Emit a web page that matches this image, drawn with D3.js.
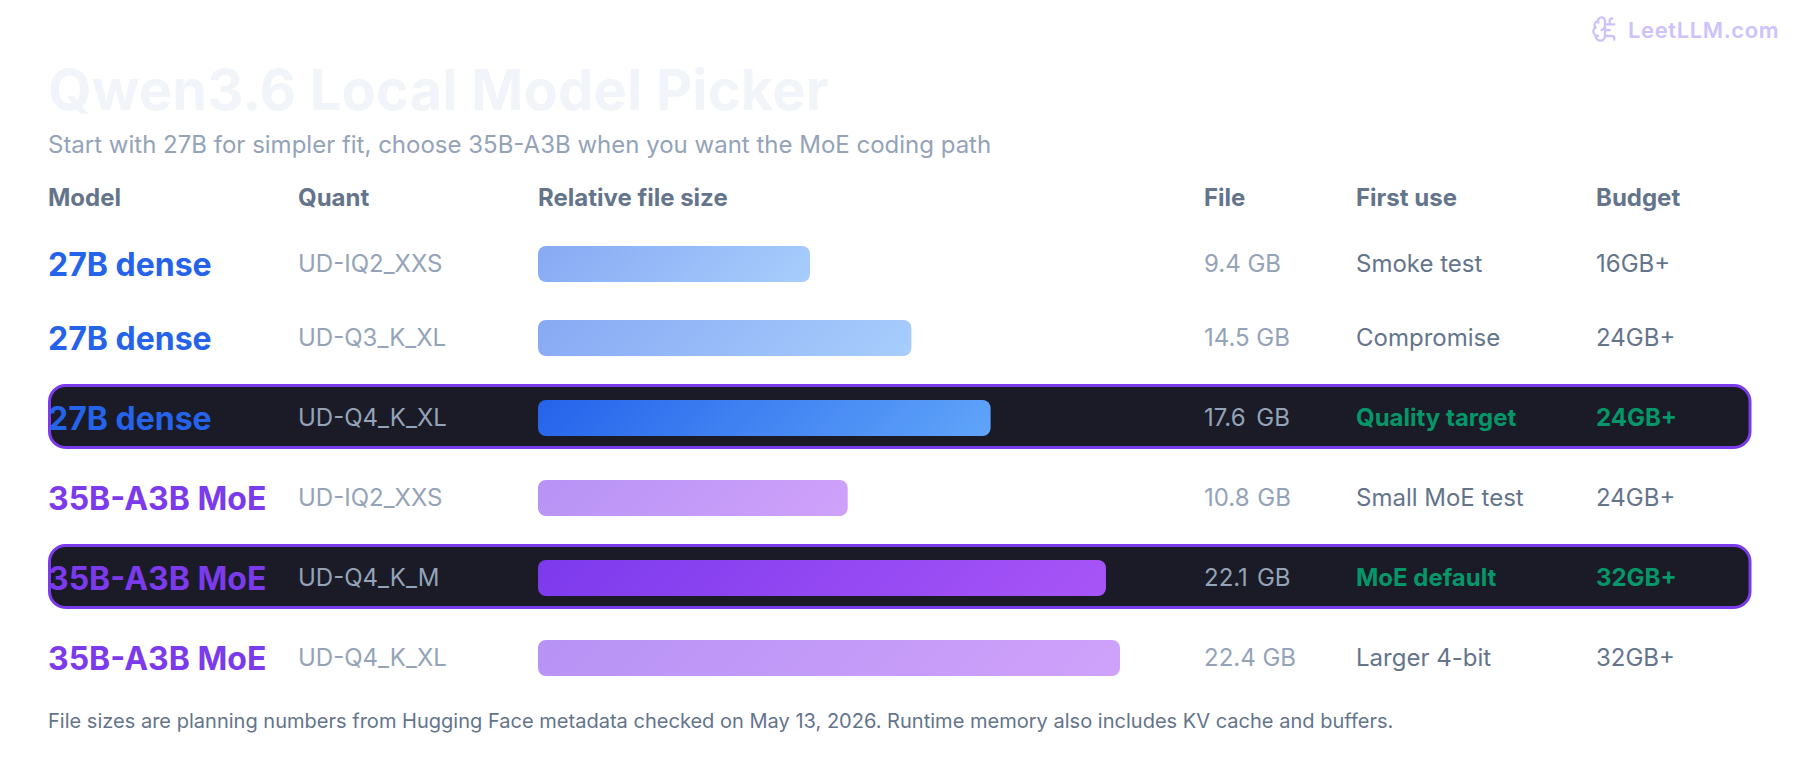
<!DOCTYPE html>
<html>
<head>
<meta charset="utf-8">
<script src="https://cdn.jsdelivr.net/npm/d3@7"></script>
<style>
html, body { margin: 0; padding: 0; background: #fff; }
svg { display: block; }
text { font-family: Inter, sans-serif; }
</style>
</head>
<body>
<div id="drawArea"></div>
<script>
// Chart values
var columns = ["Model", "Quant", "Relative file size", "File", "First use", "Budget"];
var models = ["27B dense", "27B dense", "27B dense", "35B-A3B MoE", "35B-A3B MoE", "35B-A3B MoE"];
var quants = ["UD-IQ2_XXS", "UD-Q3_K_XL", "UD-Q4_K_XL", "UD-IQ2_XXS", "UD-Q4_K_M", "UD-Q4_K_XL"];
var barLengths = [10.47, 14.37, 17.42, 11.92, 21.86, 22.4];
var fileLabels = ["9.4 GB", "14.5 GB", "17.6 GB", "10.8 GB", "22.1 GB", "22.4 GB"];
var firstUses = ["Smoke test", "Compromise", "Quality target", "Small MoE test", "MoE default", "Larger 4-bit"];
var budgets = ["16GB+", "24GB+", "24GB+", "24GB+", "32GB+", "32GB+"];
var picked = [false, false, true, false, true, false];
var families = ["blue", "blue", "blue", "purple", "purple", "purple"];

var WIDTH = 1800;
var HEIGHT = 784;
var COL_X = [48, 298, 538, 1204, 1356, 1596];
var ROW_TOPS = [246, 320, 400, 480, 560, 640];
var BAR_HEIGHT = 36;
var BAR_MAX = 582;

var svg = d3.select("#drawArea")
    .append("svg")
    .attr("width", WIDTH)
    .attr("height", HEIGHT);

var xBar = d3.scaleLinear().domain([0, d3.max(barLengths)]).range([0, BAR_MAX]);
var yRow = d3.scaleOrdinal().domain(d3.range(models.length)).range(ROW_TOPS);
var familyColor = d3.scaleOrdinal().domain(["blue", "purple"]).range(["#2563eb", "#7c3aed"]);
var familyEnd = d3.scaleOrdinal().domain(["blue", "purple"]).range(["#60a5fa", "#a855f7"]);

// Bar gradients, one per bar so the angle stays at a true 45 degrees
var defs = svg.append("defs");
barLengths.forEach(function (v, i) {
    var w = xBar(v);
    var shift = (w + BAR_HEIGHT) / 4;
    var grad = defs.append("linearGradient")
        .attr("id", "grad-" + i)
        .attr("gradientUnits", "userSpaceOnUse")
        .attr("x1", COL_X[2] + w / 2 - shift).attr("y1", BAR_HEIGHT / 2 - shift)
        .attr("x2", COL_X[2] + w / 2 + shift).attr("y2", BAR_HEIGHT / 2 + shift);
    grad.append("stop").attr("offset", "0%").attr("stop-color", familyColor(families[i]));
    grad.append("stop").attr("offset", "100%").attr("stop-color", familyEnd(families[i]));
});

// Watermark
var logo = svg.append("g")
    .attr("transform", "translate(1591,15) scale(1.167)")
    .attr("fill", "none")
    .attr("stroke", "#cdc2fc")
    .attr("stroke-width", 2)
    .attr("stroke-linecap", "round")
    .attr("stroke-linejoin", "round");
logo.selectAll("path")
    .data([
        "M12 5a3 3 0 1 0-5.997.125 4 4 0 0 0-2.526 5.77 4 4 0 0 0 .556 6.588A4 4 0 1 0 12 18Z",
        "M9 13a4.5 4.5 0 0 0 3-4",
        "M6.003 5.125A3 3 0 0 0 6.401 6.5",
        "M3.477 10.896a4 4 0 0 1 .585-.396",
        "M6 18a4 4 0 0 1-1.967-.516",
        "M12 13h4",
        "M12 18h6a2 2 0 0 1 2 2v1",
        "M12 8h8",
        "M16 8V5a2 2 0 0 1 2-2"
    ])
    .enter().append("path")
    .attr("d", String);
svg.append("text")
    .attr("x", 1628).attr("y", 38)
    .attr("font-size", 22).attr("font-weight", 600)
    .attr("letter-spacing", 0.6)
    .attr("fill", "#cdc2fc")
    .text("LeetLLM.com");

// Title block
svg.append("text")
    .attr("x", 48).attr("y", 110)
    .attr("font-size", 56).attr("font-weight", 700)
    .attr("letter-spacing", 0.18)
    .attr("fill", "#f1f5f9")
    .text("Qwen3.6 Local Model Picker");
svg.append("text")
    .attr("x", 48).attr("y", 153)
    .attr("font-size", 24)
    .attr("fill", "#94a3b8")
    .text("Start with 27B for simpler fit, choose 35B-A3B when you want the MoE coding path");

// Column headers
svg.append("g").selectAll("text")
    .data(columns)
    .enter().append("text")
    .attr("x", function (d, i) { return COL_X[i]; })
    .attr("y", 206)
    .attr("font-size", 24).attr("font-weight", 700)
    .attr("fill", "#64748b")
    .text(function (d) { return d; });

// Highlighted row backgrounds
svg.append("g").selectAll("rect")
    .data(d3.range(models.length).filter(function (i) { return picked[i]; }))
    .enter().append("rect")
    .attr("x", 49.5)
    .attr("y", function (i) { return yRow(i) - 14.5; })
    .attr("width", 1700.5)
    .attr("height", 62)
    .attr("rx", 16)
    .attr("fill", "#1a1b26")
    .attr("stroke", "#7c3aed")
    .attr("stroke-width", 3);

// Rows
var rows = svg.append("g").selectAll("g")
    .data(d3.range(models.length))
    .enter().append("g")
    .attr("transform", function (i) { return "translate(0," + yRow(i) + ")"; });

rows.append("text")
    .attr("x", COL_X[0]).attr("y", 29.5)
    .attr("font-size", 32).attr("font-weight", 700)
    .attr("fill", function (i) { return familyColor(families[i]); })
    .text(function (i) { return models[i]; });

rows.append("text")
    .attr("x", COL_X[1]).attr("y", 26)
    .attr("font-size", 24)
    .attr("fill", "#94a3b8")
    .text(function (i) { return quants[i]; });

rows.append("rect")
    .attr("x", COL_X[2]).attr("y", 0)
    .attr("width", function (i) { return xBar(barLengths[i]); })
    .attr("height", BAR_HEIGHT)
    .attr("rx", 8)
    .attr("fill", function (i) { return "url(#grad-" + i + ")"; })
    .attr("opacity", function (i) { return picked[i] ? 1 : 0.55; });

// The reference sets a wider gap before GB on these labels
var gbGap = { 2: 4, 3: 1, 4: 2.3 };

rows.append("text")
    .attr("x", COL_X[3]).attr("y", 26)
    .attr("font-size", 24)
    .attr("word-spacing", function (i) { return gbGap[i] || 0; })
    .attr("fill", "#94a3b8")
    .text(function (i) { return fileLabels[i]; });

rows.append("text")
    .attr("x", COL_X[4]).attr("y", 26)
    .attr("font-size", 24)
    .attr("font-weight", function (i) { return picked[i] ? 700 : 400; })
    .attr("fill", function (i) { return picked[i] ? "#059669" : "#64748b"; })
    .text(function (i) { return firstUses[i]; });

rows.append("text")
    .attr("x", COL_X[5]).attr("y", 26)
    .attr("font-size", 24)
    .attr("font-weight", function (i) { return picked[i] ? 700 : 400; })
    .attr("fill", function (i) { return picked[i] ? "#059669" : "#64748b"; })
    .text(function (i) { return budgets[i]; });

// Footnote
svg.append("text")
    .attr("x", 48).attr("y", 727.5)
    .attr("font-size", 20.05)
    .attr("fill", "#64748b")
    .text("File sizes are planning numbers from Hugging Face metadata checked on May 13, 2026. Runtime memory also includes KV cache and buffers.");
</script>
</body>
</html>
